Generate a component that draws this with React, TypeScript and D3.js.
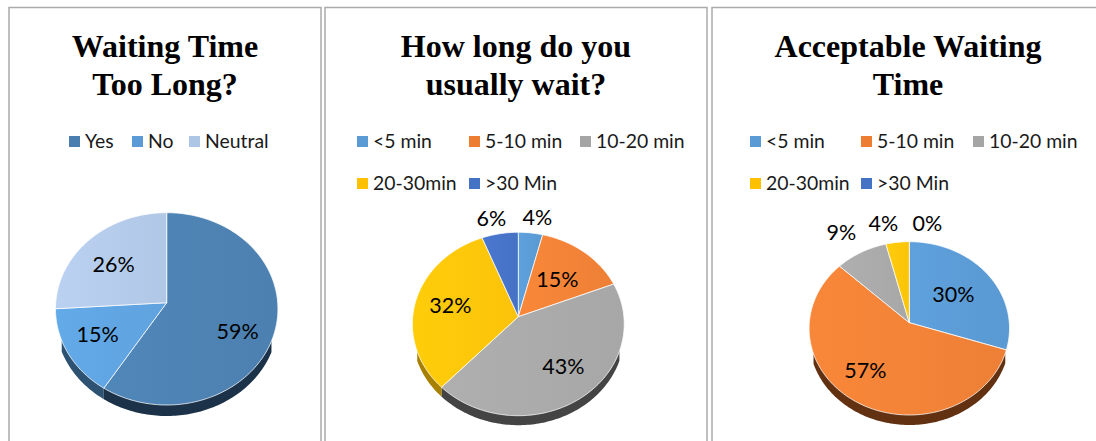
import React from "react";
import * as d3 from "d3";

// Survey answers, in percent
const tooLongCategories = ["Yes", "No", "Neutral"];
const tooLongValues = [59, 15, 26];
const usualWaitCategories = ["<5 min", "5-10 min", "10-20 min", "20-30min", ">30 Min"];
const usualWaitValues = [4, 15, 43, 32, 6];
const acceptableCategories = ["<5 min", "5-10 min", "10-20 min", "20-30min", ">30 Min"];
const acceptableValues = [30, 57, 9, 4, 0];

const tooLongColors = ["#4d82b3", "#60a4e1", "#b4cae9"];
const tooLongKeys = ["#4a7eb0", "#5b9bd5", "#adc6e5"];
const tooLongSides = ["#1b3249", "#2e5272", "#6f87a3"];
const officeColors = ["#5b9bd5", "#f08237", "#a9a9a9", "#ffc60a", "#4774c8"];
const officeKeys = ["#5b9bd5", "#ed7d31", "#a5a5a5", "#ffc000", "#4472c4"];
const usualWaitSides = ["#2e5272", "#7a3f14", "#444444", "#a88000", "#223a64"];
const acceptableSides = ["#2e5272", "#623112", "#464646", "#a88000", "#223a64"];

type Panel = {
  id: string;
  title: string[];
  titleX: number;
  categories: string[];
  values: number[];
  colors: string[];
  keys: string[];
  sides: string[];
  cx: number;
  cy: number;
  rx: number;
  up: number;
  down: number;
  depth: number;
  sideFrom: number;
  labels: [number, number][];
  keyX: number[];
  keyRows: number[];
};

const panels: Panel[] = [
  {
    id: "p1",
    title: ["Waiting Time", "Too Long?"],
    titleX: 165,
    categories: tooLongCategories,
    values: tooLongValues,
    colors: tooLongColors,
    keys: tooLongKeys,
    sides: tooLongSides,
    cx: 166.7,
    cy: 302.7,
    rx: 111,
    up: 90,
    down: 102.3,
    depth: 11,
    sideFrom: 37,
    labels: [[71, 28], [-69, 31], [-53, -39]],
    keyX: [69, 132, 189],
    keyRows: [0, 0, 0],
  },
  {
    id: "p2",
    title: ["How long do you", "usually wait?"],
    titleX: 516,
    categories: usualWaitCategories,
    values: usualWaitValues,
    colors: officeColors,
    keys: officeKeys,
    sides: usualWaitSides,
    cx: 518.3,
    cy: 316.7,
    rx: 105.6,
    up: 84.4,
    down: 99,
    depth: 9.5,
    sideFrom: 33,
    labels: [[19, -100], [39, -38], [45, 49], [-68, -12], [-27, -99]],
    keyX: [357, 469, 580, 357, 469],
    keyRows: [0, 0, 0, 1, 1],
  },
  {
    id: "p3",
    title: ["Acceptable Waiting", "Time"],
    titleX: 908,
    categories: acceptableCategories,
    values: acceptableValues,
    colors: officeColors,
    keys: officeKeys,
    sides: acceptableSides,
    cx: 909.3,
    cy: 322.7,
    rx: 100,
    up: 81,
    down: 92.3,
    depth: 10,
    sideFrom: 30,
    labels: [[44, -29], [-44, 47], [-68, -91], [-26, -100], [18, -100]],
    keyX: [750, 861, 973, 750, 861],
    keyRows: [0, 0, 0, 1, 1],
  },
];

const frames = [
  { x: 9, w: 312 },
  { x: 325, w: 382 },
  { x: 712, w: 390 },
];

const serif = "'Liberation Serif', serif";
const sans = "Lato, 'Open Sans', sans-serif";

// Tilted disc: maps a slice angle onto the rim of the foreshortened top face
function rimProjector(p: Panel) {
  const r = (2 * p.up * p.down) / (p.up + p.down);
  const k = r / p.up - 1;
  return (angle: number, depth = 0): [number, number] => {
    const x = Math.sin(angle);
    const y = -Math.cos(angle);
    const w = 1 - k * y;
    return [p.cx + (p.rx * x) / w, p.cy + (r * y) / w + depth];
  };
}

function arcSamples(a0: number, a1: number) {
  const steps = Math.max(2, Math.ceil((a1 - a0) / 0.02));
  return d3.range(steps + 1).map((i) => a0 + ((a1 - a0) * i) / steps);
}

const toPath = d3.line();

function PiePanel({ panel }: { panel: Panel }) {
  const pie = d3
    .pie<number>()
    .sort(null)
    .startAngle(0)
    .endAngle(2 * Math.PI);
  const slices = pie(panel.values);
  const rim = rimProjector(panel);
  const centre: [number, number] = [panel.cx, panel.cy];

  return (
    <g>
      <defs>
        {panel.colors.map((c, i) => (
          <linearGradient key={i} id={`${panel.id}-g${i}`} x1="0" x2="1" y1="0" y2="0">
            <stop offset="0" stopColor={d3.rgb(c).brighter(0.1).formatHex()} />
            <stop offset="1" stopColor={d3.rgb(c).darker(0.04).formatHex()} />
          </linearGradient>
        ))}
      </defs>

      {slices.map((s, i) => {
        if (s.endAngle - s.startAngle < 1e-6) return null;
        // The wall only shows along the lower part of the rim
        const angles = arcSamples(s.startAngle, s.endAngle).filter(
          (a) => rim(a)[1] > panel.cy + panel.sideFrom
        );
        if (angles.length < 2) return null;
        const upper = angles.map((a) => rim(a, -1));
        const lower = angles.map((a) => rim(a, panel.depth)).reverse();
        return (
          <path key={i} d={toPath([...upper, ...lower]) + "Z"} fill={panel.sides[i]} />
        );
      })}

      {slices.map((s, i) => {
        if (s.endAngle - s.startAngle < 1e-6) return null;
        const outline = arcSamples(s.startAngle, s.endAngle).map((a) => rim(a));
        return (
          <path
            key={i}
            d={toPath([centre, ...outline]) + "Z"}
            fill={`url(#${panel.id}-g${i})`}
            stroke="#ffffff"
            strokeOpacity={0.75}
            strokeWidth={1}
            strokeLinejoin="round"
          />
        );
      })}

      {panel.values.map((v, i) => (
        <text
          key={i}
          x={panel.cx + panel.labels[i][0]}
          y={panel.cy + panel.labels[i][1]}
          textAnchor="middle"
          dominantBaseline="central"
          fontFamily={sans}
          fontSize={21.5}
          fill="#000000"
        >
          {v}%
        </text>
      ))}

      {panel.title.map((line, i) => (
        <text
          key={line}
          x={panel.titleX}
          y={57 + i * 38}
          textAnchor="middle"
          fontFamily={serif}
          fontWeight="bold"
          fontSize={32}
          fill="#000000"
        >
          {line}
        </text>
      ))}

      {panel.categories.map((c, i) => {
        const top = 136 + panel.keyRows[i] * 42;
        return (
          <g key={c}>
            <rect x={panel.keyX[i]} y={top} width={11} height={11} fill={panel.keys[i]} />
            <text
              x={panel.keyX[i] + 16}
              y={top + 12}
              fontFamily={sans}
              fontSize={19.4}
              fill="#1a1a1a"
            >
              {c}
            </text>
          </g>
        );
      })}
    </g>
  );
}

export default function App() {
  return (
    <svg
      width={1096}
      height={441}
      viewBox="0 0 1096 441"
      style={{ position: "absolute", left: 0, top: 0, display: "block", background: "#fff" }}
    >
      {frames.map((f) => (
        <rect
          key={f.x}
          x={f.x}
          y={7.5}
          width={f.w}
          height={460}
          fill="none"
          stroke="#ababab"
          strokeWidth={1.5}
        />
      ))}
      {panels.map((p) => (
        <PiePanel key={p.id} panel={p} />
      ))}
    </svg>
  );
}
